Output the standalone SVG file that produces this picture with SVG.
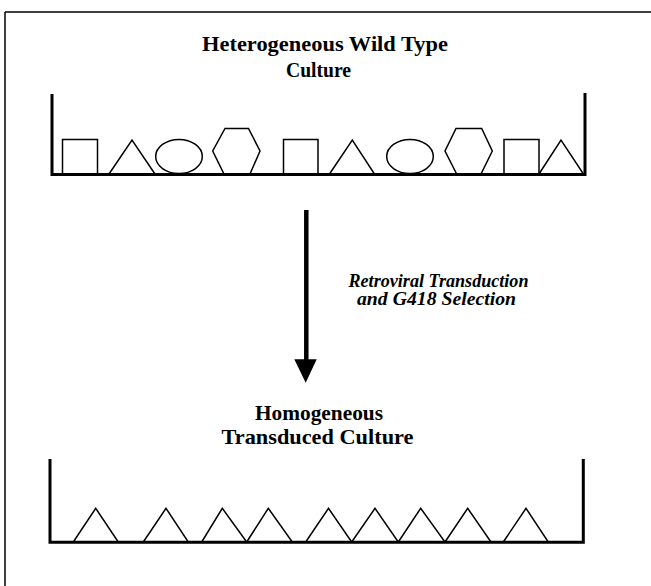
<svg xmlns="http://www.w3.org/2000/svg" width="651" height="586" viewBox="0 0 651 586">
<style>
.t{font-family:"Liberation Serif","Times New Roman",serif;font-weight:bold;fill:#000}
.i{font-family:"Liberation Serif","Times New Roman",serif;font-weight:bold;font-style:italic;fill:#000}
.wall{stroke:#000;stroke-width:3;fill:none}
.cell{stroke:#000;stroke-width:1.5;fill:#fff;stroke-linejoin:miter}
</style>
<rect width="651" height="586" fill="#fff"/>
<g id="frame">
<line x1="5" y1="12" x2="651" y2="12" stroke="#000" stroke-width="1.5"/>
<line x1="5" y1="12" x2="5" y2="586" stroke="#000" stroke-width="1.5"/>
</g>
<g id="wild-type-culture">
<text class="t" x="325" y="50.5" font-size="22" text-anchor="middle" textLength="246" lengthAdjust="spacingAndGlyphs">Heterogeneous Wild Type</text>
<text class="t" x="318.5" y="76.5" font-size="22" text-anchor="middle" textLength="65" lengthAdjust="spacingAndGlyphs">Culture</text>
<rect class="cell" x="62.5" y="139.5" width="35" height="34.5"/>
<polygon class="cell" points="109,174 132,140 155,174"/>
<ellipse class="cell" cx="179" cy="156.5" rx="23.3" ry="17"/>
<polygon class="cell" points="225,128.5 248.5,128.5 260,151 250,174 224,174 212.7,151"/>
<rect class="cell" x="283.5" y="139.5" width="34.5" height="34.5"/>
<polygon class="cell" points="329.5,174 352.3,140 374.5,174"/>
<ellipse class="cell" cx="410" cy="156.5" rx="23.3" ry="17"/>
<polygon class="cell" points="456,128.5 481.7,128.5 492.3,151 481,174 456.7,174 445,151"/>
<rect class="cell" x="504" y="139.5" width="35" height="34.5"/>
<polygon class="cell" points="539,174 561,140 583.5,174"/>
<polyline class="wall" points="52,94 52,174.5 585,174.5 585,93"/>
</g>
<g id="connectors">
<line x1="306.3" y1="210" x2="306.3" y2="361" stroke="#000" stroke-width="4.5"/>
<polygon points="294.3,359.3 316.7,359.3 305.7,382.7" fill="#000"/>
</g>
<g id="transduction-label">
<text class="i" x="348.5" y="286.5" font-size="18.5" textLength="180" lengthAdjust="spacingAndGlyphs">Retroviral Transduction</text>
<text class="i" x="357" y="305" font-size="18.5" textLength="159" lengthAdjust="spacingAndGlyphs">and G418 Selection</text>
</g>
<g id="transduced-culture">
<text class="t" x="319" y="420" font-size="22" text-anchor="middle" textLength="128" lengthAdjust="spacingAndGlyphs">Homogeneous</text>
<text class="t" x="317.5" y="443.5" font-size="22" text-anchor="middle" textLength="192" lengthAdjust="spacingAndGlyphs">Transduced Culture</text>
<polygon class="cell" points="73.3,542 95.7,508.3 118.3,542"/>
<polygon class="cell" points="143.3,542 166,508.3 188.3,542"/>
<polygon class="cell" points="201.7,542 222.3,508.3 246.7,542"/>
<polygon class="cell" points="246.7,542 268.3,508.3 292.3,542"/>
<polygon class="cell" points="305.7,542 328.5,508.3 351.7,542"/>
<polygon class="cell" points="351.7,542 375,508.3 398.3,542"/>
<polygon class="cell" points="398.3,542 420.7,508.3 445,542"/>
<polygon class="cell" points="445,542 467.7,508.3 491,542"/>
<polygon class="cell" points="503.3,542 526,508.3 548.3,542"/>
<polyline class="wall" points="50,459 50,542.2 583.3,542.2 583.3,459"/>
</g>
</svg>
